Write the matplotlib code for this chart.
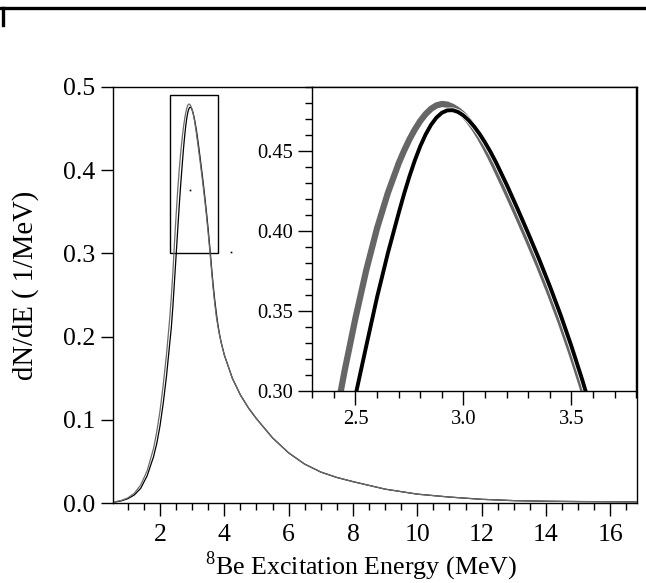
import numpy as np
import matplotlib
matplotlib.use("Agg")
import matplotlib.pyplot as plt
from matplotlib.patches import Rectangle
from matplotlib.lines import Line2D
from matplotlib.ticker import MultipleLocator, FormatStrFormatter
import matplotlib.patheffects as pe

plt.rcParams['font.family'] = ['Liberation Serif', 'DejaVu Serif']
plt.rcParams['mathtext.fontset'] = 'custom'
plt.rcParams['mathtext.rm'] = 'Liberation Serif'

# energias (MeV) onde as curvas foram lidas
energia = [0.6, 0.8, 1.0, 1.2, 1.4, 1.6, 1.8, 1.9, 2.0, 2.1, 2.2, 2.3, 2.35,
           2.40, 2.45, 2.50, 2.55, 2.60, 2.65,
           2.700, 2.725, 2.750, 2.775, 2.800, 2.825, 2.850, 2.875, 2.900,
           2.925, 2.950, 2.975, 3.000, 3.025, 3.050, 3.075, 3.100, 3.125, 3.150,
           3.20, 3.25, 3.30, 3.35, 3.40, 3.45, 3.50, 3.55, 3.60,
           3.65, 3.70, 3.75, 3.80, 3.85, 3.90, 4.0, 4.25, 4.5, 4.75, 5.0,
           5.5, 6.0, 6.5, 7.0, 7.5, 8.0, 9.0, 10.0, 11.0, 12.0, 13.0, 14.0,
           15.0, 16.0, 16.8]

# curva cinza
curva_cinza = [0.0018, 0.0035, 0.0065, 0.012, 0.022, 0.039, 0.066, 0.086, 0.111,
               0.142, 0.178, 0.221, 0.247,
               0.277, 0.3126, 0.3454, 0.3754, 0.4016, 0.4236,
               0.4421, 0.4500, 0.4571, 0.4633, 0.4686, 0.4729, 0.4762, 0.4783, 0.4792,
               0.4788, 0.4774, 0.4753, 0.4724, 0.4686, 0.4639, 0.4585, 0.4524, 0.4459, 0.4389,
               0.4244, 0.4094, 0.3939, 0.3779, 0.3609, 0.3429, 0.3234, 0.3024, 0.2804,
               0.259, 0.2405, 0.2245, 0.2125, 0.2020, 0.1930, 0.178, 0.150, 0.130, 0.1145, 0.1015,
               0.0785, 0.0605, 0.047, 0.0375, 0.031, 0.026, 0.017, 0.011, 0.0075, 0.0048, 0.0032, 0.0025,
               0.0021, 0.0019, 0.0018]

# curva preta
curva_preta = [0.0015, 0.003, 0.0055, 0.010, 0.018, 0.033, 0.056, 0.072, 0.093,
               0.120, 0.152, 0.191, 0.210,
               0.236, 0.2665, 0.297, 0.328, 0.3585, 0.386,
               0.4110, 0.4230, 0.4340, 0.4440, 0.4528, 0.4602, 0.4662, 0.4707, 0.4737,
               0.4752, 0.4753, 0.4742, 0.4720, 0.4689, 0.4650, 0.4604, 0.4551, 0.4493, 0.4429,
               0.4288, 0.4138, 0.3983, 0.3823, 0.3653, 0.3473, 0.3278, 0.3068, 0.2843,
               0.263, 0.2445, 0.2285, 0.2145, 0.2030, 0.1935, 0.178, 0.150, 0.130, 0.1145, 0.1015,
               0.0785, 0.0605, 0.047, 0.0375, 0.031, 0.026, 0.017, 0.011, 0.0075, 0.0048, 0.0032, 0.0025,
               0.0021, 0.0019, 0.0018]

# pontinhos soltos no grafico principal
pontos_x = [2.93, 4.2]
pontos_y = [0.376, 0.302]

# janela do zoom
zoom_x = [2.3, 3.8]
zoom_y = [0.30, 0.49]

fig = plt.figure(figsize=(6.46, 5.83), dpi=100)

# pedaco de moldura no topo da pagina
fig.add_artist(Line2D([0, 1], [0.986, 0.986], color='black', lw=2.4))
fig.add_artist(Line2D([0.005, 0.005], [0.986, 0.957], color='black', lw=2.4))

ax = fig.add_axes([0.175, 0.1367, 0.811, 0.7146])
ax.plot(energia, curva_preta, color='black', lw=0.9)
ax.plot(energia, curva_cinza, color='#6a6a6a', lw=0.9)
ax.plot(pontos_x, pontos_y, ls='none', marker='s', ms=1.2, mew=0, color='black')
ax.add_patch(Rectangle((zoom_x[0], zoom_y[0]), zoom_x[1] - zoom_x[0],
                       zoom_y[1] - zoom_y[0], fill=False, ec='black', lw=1.0))
ax.set_xlim(0.54, 16.83)
ax.set_ylim(0, 0.5)
ax.xaxis.set_major_locator(MultipleLocator(2))
ax.xaxis.set_minor_locator(MultipleLocator(0.5))
ax.yaxis.set_major_locator(MultipleLocator(0.1))
ax.yaxis.set_major_formatter(FormatStrFormatter('%.1f'))
ax.tick_params(which='major', direction='out', length=9, width=1, labelsize=18.5, pad=4)
ax.tick_params(which='minor', direction='out', length=5, width=1)
ax.tick_params(axis='x', which='major', pad=6)
for s in ax.spines.values():
    s.set_linewidth(1)
ax.set_xlabel(r'$^{8}$Be Excitation Energy (MeV)', fontsize=18.7)
ax.xaxis.set_label_coords(0.473, -0.11)
ax.set_ylabel('dN/dE ( 1/MeV)', fontsize=20.6)
ax.yaxis.set_label_coords(-0.141, 0.523)

# grafico interno (zoom no pico)
axi = fig.add_axes([0.4834, 0.3298, 0.5015, 0.5215])
axi.plot(energia, curva_cinza, color='#666666', lw=4.5, solid_joinstyle='round')
axi.plot(energia, curva_preta, color='black', lw=2.8, solid_joinstyle='round',
         path_effects=[pe.Stroke(linewidth=4.0, foreground='white'), pe.Normal()])
axi.set_xlim(zoom_x)
axi.set_ylim(zoom_y)
axi.xaxis.set_major_locator(MultipleLocator(0.5))
axi.xaxis.set_minor_locator(MultipleLocator(0.1))
axi.yaxis.set_major_locator(MultipleLocator(0.05))
axi.yaxis.set_minor_locator(MultipleLocator(0.01))
axi.yaxis.set_major_formatter(FormatStrFormatter('%.2f'))
axi.xaxis.set_major_formatter(FormatStrFormatter('%.1f'))
axi.tick_params(which='major', direction='out', length=10, width=1, labelsize=14.8, pad=4)
axi.tick_params(which='minor', direction='out', length=5, width=1)
for s in axi.spines.values():
    s.set_linewidth(1)

fig.savefig('out.png', dpi=100)
